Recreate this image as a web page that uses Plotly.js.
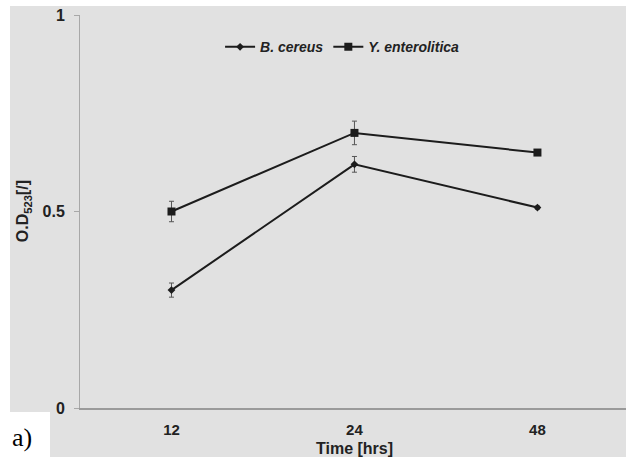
<!DOCTYPE html>
<html>
<head>
<meta charset="utf-8">
<script src="https://cdn.plot.ly/plotly-3.0.1.min.js"></script>
<style>html,body{margin:0;padding:0;background:#e1e1e1;overflow:hidden;}#chart{width:626px;height:457px;}</style>
</head>
<body>
<div id="chart"></div>
<script>
var categories = ['12', '24', '48'];
var cereusValues = [0.30, 0.62, 0.51];
var cereusErrors = [0.018, 0.02, 0.004];
var yentValues = [0.50, 0.70, 0.65];
var yentErrors = [0.026, 0.03, 0.004];
var yTickVals = [0, 0.5, 1];
var yTickText = ['0', '0.5', '1'];

var lineColor = '#1c1c1c';
var sans = "'Liberation Sans', Arial, Helvetica, sans-serif";
var traces = [
  {
    x: categories, y: cereusValues, name: 'B. cereus', type: 'scatter', mode: 'lines+markers',
    line: {color: lineColor, width: 2},
    marker: {symbol: 'diamond', size: 6, color: lineColor},
    error_y: {type: 'data', array: cereusErrors, visible: true, color: '#555', thickness: 1, width: 2.5}
  },
  {
    x: categories, y: yentValues, name: 'Y. enterolitica', type: 'scatter', mode: 'lines+markers',
    line: {color: lineColor, width: 2},
    marker: {symbol: 'square', size: 8, color: lineColor},
    error_y: {type: 'data', array: yentErrors, visible: true, color: '#555', thickness: 1, width: 2.5}
  }
];

var bg = '#e1e1e1';
var layout = {
  width: 626, height: 457,
  margin: {l: 80, r: 0, t: 15, b: 49, pad: 0},
  paper_bgcolor: bg, plot_bgcolor: bg,
  font: {family: sans, color: '#222'},
  showlegend: true,
  legend: {
    orientation: 'h', x: 0.48, xanchor: 'center', y: 0.918, yanchor: 'middle',
    bgcolor: 'rgba(0,0,0,0)', font: {family: sans, size: 14, style: 'italic', weight: 'bold', color: '#222'},
    itemwidth: 30, tracegroupgap: 0
  },
  xaxis: {
    type: 'category', range: [-0.5, 2.484],
    showline: true, linecolor: '#9a9a9a', linewidth: 2,
    showgrid: false, zeroline: false,
    ticks: 'outside', ticklen: 7, tickcolor: 'rgba(0,0,0,0)',
    tickfont: {family: sans, size: 15, weight: 'bold', color: '#222'}
  },
  yaxis: {
    range: [0, 1], tickvals: yTickVals, ticktext: yTickText,
    showline: true, linecolor: '#a8a8a8', linewidth: 1,
    showgrid: false, zeroline: false,
    ticks: 'outside', ticklen: 5, tickcolor: '#a8a8a8',
    ticklabelstandoff: 6,
    tickfont: {family: sans, size: 16, weight: 'bold', color: '#222'}
  },
  shapes: [
    {type: 'rect', xref: 'paper', yref: 'paper', x0: -0.1465, x1: -0.1282, y0: -0.13, y1: 1.04, fillcolor: '#fff', line: {width: 0}, layer: 'below'},
    {type: 'rect', xref: 'paper', yref: 'paper', x0: -0.1465, x1: 1.01, y0: 1.0229, y1: 1.04, fillcolor: '#fff', line: {width: 0}, layer: 'below'},
    {type: 'rect', xref: 'paper', yref: 'paper', x0: -0.1465, x1: -0.0549, y0: -0.13, y1: -0.0102, fillcolor: '#fff', line: {width: 0}, layer: 'below'}
  ],
  annotations: [
    {text: 'Time [hrs]', xref: 'paper', yref: 'paper', x: 0.502, y: -0.102, xanchor: 'center', yanchor: 'middle', showarrow: false, font: {family: sans, size: 16, weight: 'bold', color: '#222'}},
    {text: 'O.D<sub>523</sub>[/]', xref: 'paper', yref: 'paper', x: -0.103, y: 0.5, xanchor: 'center', yanchor: 'middle', textangle: -90, showarrow: false, font: {family: sans, size: 16, weight: 'bold', color: '#222'}},
    {text: 'a)', xref: 'paper', yref: 'paper', x: -0.128, y: -0.075, xanchor: 'left', yanchor: 'middle', showarrow: false, font: {family: "'Liberation Serif', 'Times New Roman', serif", size: 26, color: '#000'}}
  ]
};

Plotly.newPlot('chart', traces, layout, {displayModeBar: false, staticPlot: true});
</script>
</body>
</html>
